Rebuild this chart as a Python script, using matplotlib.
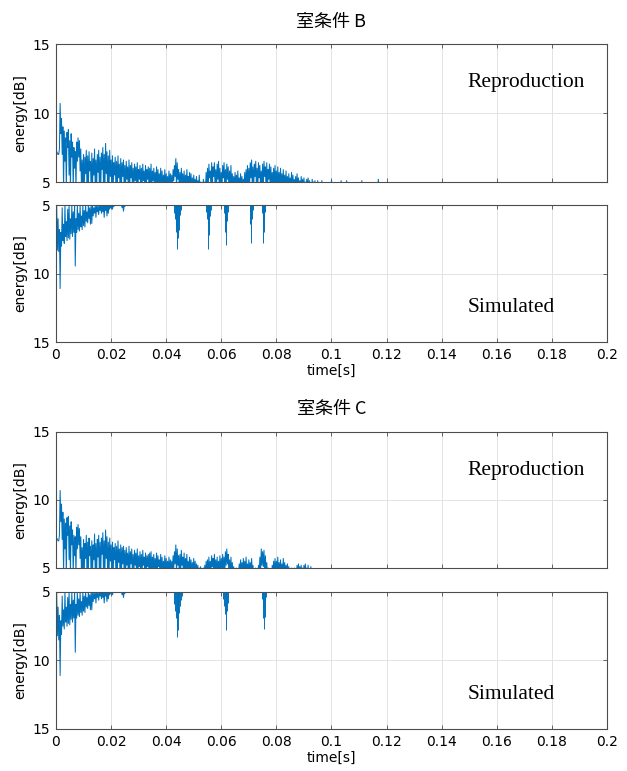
import numpy as np
import matplotlib.pyplot as plt

# sample step of the read-off values (s); peaks on the grid, troughs half a step later
STEP = 0.0005

# ---- 室条件 B, reproduction (energy peaks / troughs) ----
rep_b_peak = [
    7.3, 7.1, 7.0, 10.7, 9.6, 9.0, 8.7, 8.2, 8.6, 8.8,
    8.0, 8.5, 7.9, 7.5, 7.2, 7.9, 8.2, 8.0, 7.4, 6.6,
    7.0, 6.8, 7.3, 6.9, 7.2, 6.5, 7.1, 6.7, 7.4, 6.6,
    7.0, 7.3, 6.8, 7.1, 7.5, 7.0, 7.8, 7.2, 6.9, 7.3,
    6.6, 6.9, 6.4, 6.8, 6.5, 6.9, 6.3, 6.7, 6.4, 6.6,
    6.2, 6.5, 6.1, 6.6, 6.2, 6.4, 6.0, 6.3, 6.1, 6.4,
    5.9, 6.2, 6.0, 6.3, 5.8, 6.2, 5.9, 6.1, 6.0, 6.3,
    5.8, 6.0, 5.7, 6.1, 5.9, 5.6, 6.0, 5.8, 5.5, 5.9,
    5.6, 5.4, 5.8, 5.6, 5.5, 5.9, 6.2, 6.7, 6.4, 5.9,
    5.7, 6.0, 5.6, 5.8, 5.5, 5.9, 5.4, 5.7, 5.6, 5.3,
    5.5, 5.2, 5.4, 5.1, 5.5, 5.0, 4.8, 5.2, 5.0, 5.7,
    6.0, 6.3, 5.8, 6.4, 6.1, 6.4, 5.9, 6.3, 6.5, 6.0,
    5.7, 6.2, 6.4, 5.9, 6.3, 6.1, 5.8, 6.2, 5.6, 5.4,
    5.7, 5.5, 5.8, 5.3, 5.6, 5.4, 5.2, 5.7, 5.9, 6.2,
    6.0, 6.4, 6.6, 6.1, 6.3, 6.5, 6.0, 6.4, 6.2, 5.8,
    6.3, 6.5, 6.1, 6.4, 5.9, 6.3, 6.1, 5.7, 6.0, 6.2,
    5.8, 6.1, 5.7, 6.0, 5.6, 5.9, 5.5, 5.8, 5.4, 5.6,
    5.3, 5.7, 5.5, 5.2, 5.4, 5.6, 5.3, 5.1, 5.4, 5.2,
    5.3, 5.0, 5.2, 5.3, 5.1, 4.9, 5.2, 5.0, 5.1, 4.8,
    5.1, 4.8, 4.7, 5.1, 4.7, 4.7, 4.7, 4.7, 4.7, 4.7,
    5.15, 4.7, 4.7, 4.7, 4.7, 4.7, 4.7, 5.1, 4.7, 4.7,
    4.7, 5.1, 4.7, 4.7, 4.7, 4.7, 4.7, 4.7, 4.7, 4.7,
    4.7, 4.7, 5.1, 4.7, 4.7, 4.7, 4.7, 4.7, 4.7, 4.7,
    4.7, 4.7, 4.7, 4.7, 5.2, 4.7, 4.7, 4.7, 4.7, 4.7,
]
rep_b_trough = [
    7.2, 7.0, 7.4, 8.5, 7.0, 4.5, 6.5, 4.5, 7.5, 5.5,
    4.5, 6.8, 4.5, 6.0, 4.5, 6.5, 6.8, 5.8, 4.5, 4.5,
    4.5, 5.6, 4.5, 4.5, 5.8, 4.5, 4.5, 5.5, 4.5, 4.5,
    5.7, 4.5, 4.5, 5.9, 4.5, 4.5, 5.6, 4.5, 4.5, 5.4,
    4.5, 4.5, 5.5, 4.5, 4.5, 5.3, 4.5, 4.5, 5.4, 4.5,
    4.5, 5.2, 4.5, 4.5, 5.3, 4.5, 4.5, 5.1, 4.5, 4.5,
    5.2, 4.5, 4.5, 5.1, 4.5, 4.5, 5.2, 4.5, 4.5, 4.5,
    5.1, 4.5, 4.5, 4.5, 5.0, 4.5, 4.5, 4.5, 4.5, 4.5,
    4.5, 4.5, 4.5, 4.5, 4.5, 5.1, 5.4, 4.5, 5.2, 4.5,
    4.5, 5.0, 4.5, 4.5, 4.5, 5.0, 4.5, 4.5, 4.5, 4.5,
    4.5, 4.5, 4.5, 4.5, 4.5, 4.5, 4.5, 4.5, 4.5, 4.5,
    4.5, 5.3, 4.5, 4.5, 5.4, 4.5, 4.5, 5.2, 4.5, 4.5,
    4.5, 5.3, 4.5, 4.5, 5.2, 4.5, 4.5, 4.5, 4.5, 4.5,
    4.5, 4.5, 4.5, 4.5, 4.5, 4.5, 4.5, 4.5, 4.5, 4.5,
    4.5, 5.3, 4.5, 4.5, 5.4, 4.5, 4.5, 5.3, 4.5, 4.5,
    4.5, 5.4, 4.5, 4.5, 5.2, 4.5, 4.5, 4.5, 4.5, 4.5,
    4.5, 4.5, 4.5, 4.5, 4.5, 4.5, 4.5, 4.5, 4.5, 4.5,
    4.5, 4.5, 4.5, 4.5, 4.5, 4.5, 4.5, 4.5, 4.5, 4.5,
    4.5, 4.5, 4.5, 4.5, 4.5, 4.5, 4.5, 4.5, 4.5, 4.5,
    4.5, 4.5, 4.5, 4.5, 4.5, 4.5, 4.5, 4.5, 4.5, 4.5,
    4.5, 4.5, 4.5, 4.5, 4.5, 4.5, 4.5, 4.5, 4.5, 4.5,
    4.5, 4.5, 4.5, 4.5, 4.5, 4.5, 4.5, 4.5, 4.5, 4.5,
    4.5, 4.5, 4.5, 4.5, 4.5, 4.5, 4.5, 4.5, 4.5, 4.5,
    4.5, 4.5, 4.5, 4.5, 4.5, 4.5, 4.5, 4.5, 4.5, 4.5,
]

# ---- 室条件 C, reproduction ----
rep_c_peak = [
    7.3, 7.1, 7.0, 10.7, 9.7, 9.1, 8.6, 8.3, 8.7, 8.8,
    8.1, 8.4, 7.8, 7.4, 7.3, 8.0, 8.2, 7.9, 7.3, 6.5,
    7.1, 6.8, 7.4, 6.9, 7.2, 6.6, 7.0, 6.7, 7.5, 6.8,
    7.1, 7.4, 6.9, 7.2, 7.6, 7.0, 7.8, 7.3, 6.9, 7.2,
    6.7, 6.9, 6.5, 6.8, 6.6, 7.0, 6.4, 6.7, 6.5, 6.6,
    6.3, 6.5, 6.1, 6.6, 6.2, 6.4, 6.0, 6.3, 6.1, 6.4,
    5.9, 6.2, 6.0, 6.3, 5.8, 6.1, 5.9, 6.0, 6.1, 6.2,
    5.8, 6.0, 5.7, 6.1, 5.9, 5.6, 6.0, 5.8, 5.5, 5.9,
    5.7, 5.5, 5.8, 5.6, 5.5, 5.9, 6.2, 6.7, 6.4, 5.9,
    6.0, 6.3, 5.8, 6.1, 5.7, 6.0, 5.5, 5.8, 5.6, 5.4,
    5.7, 5.5, 5.3, 5.2, 5.0, 5.1, 4.8, 5.0, 5.2, 5.5,
    5.6, 5.8, 5.5, 5.9, 5.7, 6.0, 5.6, 5.8, 5.5, 5.9,
    5.7, 6.0, 5.8, 6.2, 6.4, 6.0, 5.6, 5.8, 5.4, 5.1,
    4.9, 5.0, 4.8, 5.3, 5.6, 5.4, 5.7, 5.5, 5.8, 5.3,
    5.6, 5.4, 5.7, 5.2, 4.9, 5.0, 4.8, 5.2, 5.8, 6.4,
    6.2, 6.3, 5.9, 5.4, 5.0, 4.8, 4.9, 5.2, 5.5, 5.7,
    5.5, 5.8, 5.4, 5.6, 5.3, 5.7, 5.4, 5.2, 5.3, 5.1,
    4.9, 5.0, 4.8, 5.0, 4.9, 5.2, 5.3, 5.1, 5.2, 5.0,
    5.2, 5.3, 5.0, 5.2, 4.9, 5.1, 4.8, 4.7, 4.7, 4.7,
    4.7, 4.7, 4.7, 4.7, 4.7, 4.7, 4.7, 4.7, 4.7, 4.7,
]
rep_c_trough = [
    7.2, 7.0, 7.4, 8.4, 7.1, 4.5, 6.4, 4.5, 7.4, 5.6,
    4.5, 6.7, 4.5, 5.9, 4.5, 6.4, 6.7, 5.7, 4.5, 4.5,
    4.5, 5.7, 4.5, 4.5, 5.9, 4.5, 4.5, 5.6, 4.5, 4.5,
    5.8, 4.5, 4.5, 6.0, 4.5, 4.5, 5.7, 4.5, 4.5, 5.5,
    4.5, 4.5, 5.6, 4.5, 4.5, 5.4, 4.5, 4.5, 5.3, 4.5,
    4.5, 5.2, 4.5, 4.5, 5.3, 4.5, 4.5, 5.2, 4.5, 4.5,
    5.1, 4.5, 4.5, 5.2, 4.5, 4.5, 5.1, 4.5, 4.5, 4.5,
    5.0, 4.5, 4.5, 4.5, 5.1, 4.5, 4.5, 4.5, 4.5, 4.5,
    4.5, 4.5, 4.5, 4.5, 4.5, 5.0, 5.3, 4.5, 5.2, 4.5,
    4.5, 5.2, 4.5, 4.5, 5.0, 4.5, 4.5, 4.5, 4.5, 4.5,
    4.5, 4.5, 4.5, 4.5, 4.5, 4.5, 4.5, 4.5, 4.5, 4.5,
    4.5, 4.5, 4.5, 5.1, 4.5, 4.5, 4.5, 4.5, 4.5, 4.5,
    4.5, 4.5, 4.5, 5.2, 5.3, 4.5, 4.5, 4.5, 4.5, 4.5,
    4.5, 4.5, 4.5, 4.5, 4.5, 4.5, 4.5, 4.5, 4.5, 4.5,
    4.5, 4.5, 4.5, 4.5, 4.5, 4.5, 4.5, 4.5, 4.5, 5.2,
    5.1, 4.5, 4.5, 4.5, 4.5, 4.5, 4.5, 4.5, 4.5, 4.5,
    4.5, 4.5, 4.5, 4.5, 4.5, 4.5, 4.5, 4.5, 4.5, 4.5,
    4.5, 4.5, 4.5, 4.5, 4.5, 4.5, 4.5, 4.5, 4.5, 4.5,
    4.5, 4.5, 4.5, 4.5, 4.5, 4.5, 4.5, 4.5, 4.5, 4.5,
    4.5, 4.5, 4.5, 4.5, 4.5, 4.5, 4.5, 4.5, 4.5, 4.5,
]

# ---- simulated, early part (0 - 0.025 s) ----
sim_b_peak = [
    7.8, 8.3, 8.4, 11.1, 8.0, 7.6, 7.8, 7.3, 7.6, 7.4,
    7.5, 7.1, 7.3, 7.0, 9.45, 7.0, 6.8, 6.9, 6.6, 6.8,
    6.5, 6.6, 6.2, 6.3, 6.0, 6.4, 6.35, 5.8, 5.6, 5.9,
    5.5, 5.7, 5.4, 5.6, 5.5, 5.9, 5.4, 5.8, 5.6, 5.3,
    5.2, 5.3, 5.1, 5.0, 5.0, 5.0, 5.0, 5.0, 5.2, 5.45,
    5.1,
]
sim_b_trough = [
    5.0, 6.0, 6.8, 7.0, 5.2, 6.4, 5.0, 6.2, 5.3, 5.0,
    6.0, 5.0, 5.5, 5.0, 6.0, 5.0, 5.6, 5.0, 5.8, 5.0,
    5.4, 5.0, 5.5, 5.0, 5.2, 5.0, 5.0, 5.2, 5.0, 5.0,
    5.1, 5.0, 5.0, 5.0, 5.0, 5.0, 5.0, 5.0, 5.0, 5.0,
    5.0, 5.0, 5.0, 5.0, 5.0, 5.0, 5.0, 5.0, 5.0, 5.0,
    5.0,
]
sim_c_peak = [
    7.9, 8.2, 8.5, 11.1, 8.1, 7.5, 7.7, 7.2, 7.5, 7.3,
    7.4, 7.0, 7.2, 6.9, 9.4, 6.9, 6.7, 6.8, 6.5, 6.7,
    6.4, 6.5, 6.1, 6.2, 6.0, 6.3, 6.3, 5.7, 5.5, 5.8,
    5.4, 5.6, 5.3, 5.5, 5.4, 5.8, 5.3, 5.7, 5.5, 5.2,
    5.1, 5.2, 5.0, 5.0, 5.0, 5.0, 5.0, 5.0, 5.2, 5.4,
    5.1,
]
sim_c_trough = [
    5.0, 6.1, 6.7, 7.1, 5.3, 6.3, 5.0, 6.1, 5.4, 5.0,
    5.9, 5.0, 5.6, 5.0, 5.9, 5.0, 5.5, 5.0, 5.7, 5.0,
    5.3, 5.0, 5.4, 5.0, 5.2, 5.0, 5.0, 5.1, 5.0, 5.0,
    5.1, 5.0, 5.0, 5.0, 5.0, 5.0, 5.0, 5.0, 5.0, 5.0,
    5.0, 5.0, 5.0, 5.0, 5.0, 5.0, 5.0, 5.0, 5.0, 5.0,
    5.0,
]

# ---- simulated, isolated reflections (time, energy) ----
sim_b_spike_t = [0.0429, 0.0432, 0.0435, 0.0437, 0.0439, 0.0441, 0.0443, 0.0445, 0.0448, 0.0451, 0.0454,
                 0.0546, 0.0549, 0.0551, 0.0553, 0.0555, 0.0557, 0.0560, 0.0563,
                 0.0609, 0.0612, 0.0614, 0.0616, 0.0618, 0.0620, 0.0623,
                 0.0703, 0.0705, 0.0707, 0.0709, 0.0711, 0.0714,
                 0.0747, 0.0750, 0.0752, 0.0754, 0.0756, 0.0759]
sim_b_spike_v = [5.6, 6.0, 6.5, 7.0, 7.6, 8.2, 7.4, 6.8, 6.1, 5.7, 5.4,
                 5.5, 6.0, 6.8, 8.2, 7.2, 6.3, 5.8, 5.4,
                 5.6, 6.2, 7.0, 7.9, 7.1, 6.2, 5.5,
                 5.6, 6.4, 7.75, 6.9, 6.0, 5.4,
                 5.6, 6.5, 7.8, 7.0, 6.1, 5.5]
sim_c_spike_t = [0.0427, 0.0430, 0.0433, 0.0436, 0.0438, 0.0440, 0.0442, 0.0444, 0.0446, 0.0449, 0.0452, 0.0456,
                 0.0608, 0.0611, 0.0614, 0.0616, 0.0618, 0.0620, 0.0623, 0.0626,
                 0.0748, 0.0751, 0.0753, 0.0755, 0.0757, 0.0760, 0.0763]
sim_c_spike_v = [5.5, 5.9, 6.4, 6.9, 7.4, 8.3, 7.8, 7.0, 6.5, 6.0, 5.6, 5.3,
                 5.5, 6.0, 6.6, 7.8, 7.2, 6.4, 5.8, 5.4,
                 5.5, 6.1, 6.9, 7.7, 6.8, 6.0, 5.4]

x_ticks = [0, 0.02, 0.04, 0.06, 0.08, 0.1, 0.12, 0.14, 0.16, 0.18, 0.2]
x_tick_labels = ['0', '0.02', '0.04', '0.06', '0.08', '0.1', '0.12', '0.14', '0.16', '0.18', '0.2']
y_ticks = [5, 10, 15]

BLUE = '#0072BD'
EDGE = '#4d4d4d'


def zigzag(peak, trough):
    # merge peak and trough samples into one trace
    peak = np.asarray(peak, dtype=float)
    trough = np.asarray(trough, dtype=float)
    t = np.arange(len(peak)) * STEP
    tt = np.empty(2 * len(peak))
    vv = np.empty(2 * len(peak))
    tt[0::2] = t
    tt[1::2] = t + STEP / 2
    vv[0::2] = peak
    vv[1::2] = trough
    return tt, vv


def style_axes(ax, bottom):
    ax.set_xlim(0, 0.2)
    ax.set_xticks(x_ticks)
    ax.set_yticks(y_ticks)
    ax.grid(True, color='#e3e3e3', linewidth=0.7)
    ax.set_axisbelow(True)
    ax.tick_params(direction='in', length=3, width=0.6, color=EDGE,
                   top=True, right=True, labelsize=10, pad=4)
    for sp in ax.spines.values():
        sp.set_color(EDGE)
        sp.set_linewidth(0.8)
    ax.set_ylabel('energy[dB]', fontsize=10)
    if bottom:
        ax.set_xticklabels(x_tick_labels)
        ax.set_xlabel('time[s]', fontsize=10, labelpad=2)
    else:
        ax.set_xticklabels([])


fig = plt.figure(figsize=(6.27, 7.71), dpi=100)

left, width = 0.0893, 0.8788
boxes = [(0.7639, 0.1790), (0.5564, 0.1777), (0.2633, 0.1764), (0.0545, 0.1777)]
groups = [
    ('室条件 B', rep_b_peak, rep_b_trough, sim_b_peak, sim_b_trough, sim_b_spike_t, sim_b_spike_v, 0.972),
    ('室条件 C', rep_c_peak, rep_c_trough, sim_c_peak, sim_c_trough, sim_c_spike_t, sim_c_spike_v, 0.469),
]

serif = ['Liberation Serif', 'DejaVu Serif']

for i, (title, rp, rt, sp, st, sk_t, sk_v, ty) in enumerate(groups):
    # reproduction
    ax1 = fig.add_axes([left, boxes[2 * i][0], width, boxes[2 * i][1]])
    t, v = zigzag(rp, rt)
    ax1.plot(t, v, color=BLUE, linewidth=0.75)
    ax1.set_ylim(5, 15)
    style_axes(ax1, bottom=False)
    ax1.text(0.1492, 12.2, 'Reproduction', fontsize=15.5, family=serif, va='center', ha='left')

    # simulated (inverted axis)
    ax2 = fig.add_axes([left, boxes[2 * i + 1][0], width, boxes[2 * i + 1][1]])
    t, v = zigzag(sp, st)
    ax2.plot(t, v, color=BLUE, linewidth=0.75)
    ax2.vlines(sk_t, 5, sk_v, color=BLUE, linewidth=0.7)
    ax2.set_ylim(15, 5)
    style_axes(ax2, bottom=True)
    ax2.text(0.1495, 12.5, 'Simulated', fontsize=15.5, family=serif, va='center', ha='left')

    fig.text(left + width / 2, ty, title, fontsize=13, ha='center', va='center',
             family=['Noto Sans CJK JP', 'DejaVu Sans'])

fig.savefig('out.png', dpi=100)
